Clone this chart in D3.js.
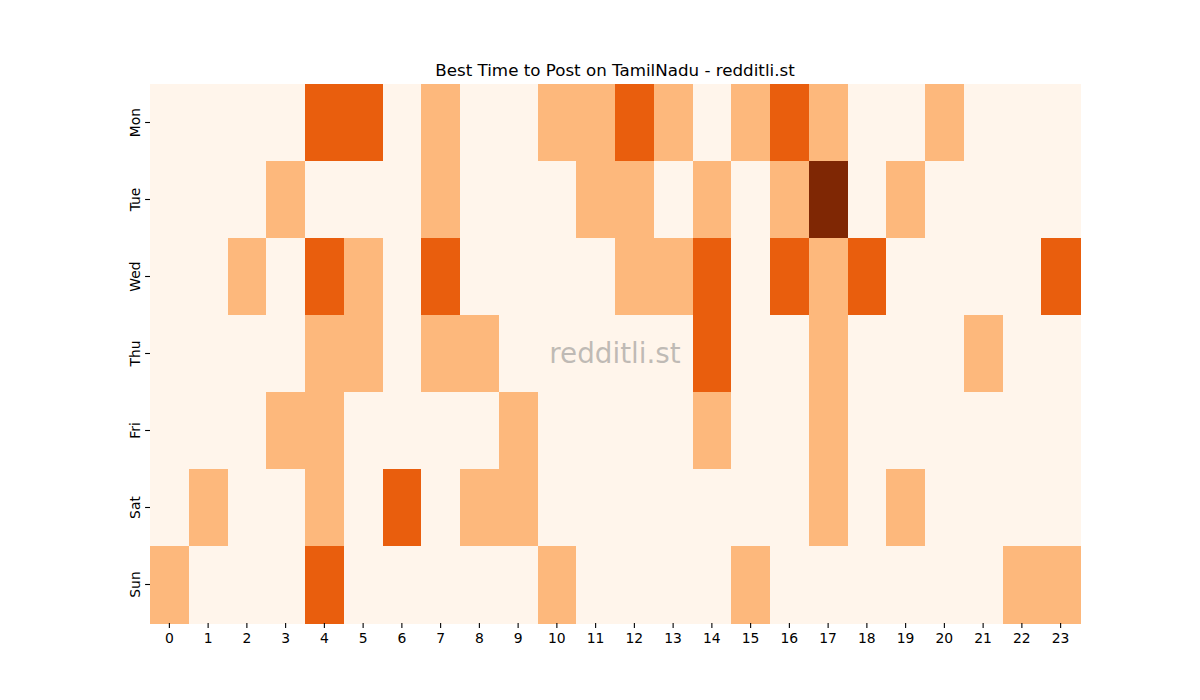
<!DOCTYPE html>
<html>
<head>
<meta charset="utf-8">
<script src="https://cdn.jsdelivr.net/npm/d3@7"></script>
<style>
  body { margin: 0; background: #fff; }
  svg { display: block; font-family: "DejaVu Sans", sans-serif; }
</style>
</head>
<body>
<svg id="chart" width="1200" height="700"></svg>
<script>
const days = ["Mon", "Tue", "Wed", "Thu", "Fri", "Sat", "Sun"];
const hours = ["0","1","2","3","4","5","6","7","8","9","10","11","12","13","14","15","16","17","18","19","20","21","22","23"];
// levels per day, hours 0..23
const mon = [0,0,0,0,2,2,0,1,0,0,1,1,2,1,0,1,2,1,0,0,1,0,0,0];
const tue = [0,0,0,1,0,0,0,1,0,0,0,1,1,0,1,0,1,3,0,1,0,0,0,0];
const wed = [0,0,1,0,2,1,0,2,0,0,0,0,1,1,2,0,2,1,2,0,0,0,0,2];
const thu = [0,0,0,0,1,1,0,1,1,0,0,0,0,0,2,0,0,1,0,0,0,1,0,0];
const fri = [0,0,0,1,1,0,0,0,0,1,0,0,0,0,1,0,0,1,0,0,0,0,0,0];
const sat = [0,1,0,0,1,0,2,0,1,1,0,0,0,0,0,0,0,1,0,1,0,0,0,0];
const sun = [1,0,0,0,2,0,0,0,0,0,1,0,0,0,0,1,0,0,0,0,0,0,1,1];
const rows = [mon, tue, wed, thu, fri, sat, sun];

const title = "Best Time to Post on TamilNadu - redditli.st";
const watermark = "redditli.st";

const svg = d3.select("#chart");
const margin = {left: 150, right: 120, top: 84, bottom: 77};
const W = 1200, H = 700;

const x = d3.scaleBand().domain(hours).range([margin.left, W - margin.right]);
const y = d3.scaleBand().domain(days).range([margin.top, H - margin.bottom]);
const color = d3.scaleOrdinal().domain([0,1,2,3]).range(["#fff5eb", "#fdb87c", "#e95e0d", "#7f2704"]);

const cells = [];
rows.forEach((r, i) => r.forEach((v, j) => cells.push({day: days[i], hour: hours[j], v})));

svg.append("g").selectAll("rect").data(cells).join("rect")
  .attr("x", d => x(d.hour))
  .attr("y", d => y(d.day))
  .attr("width", x.bandwidth() + 0.5)
  .attr("height", y.bandwidth() + 0.5)
  .attr("fill", d => color(d.v))
  .attr("shape-rendering", "crispEdges");

const xAxis = svg.append("g")
  .attr("transform", `translate(0,${H - margin.bottom})`)
  .call(d3.axisBottom(x).tickSize(4.9).tickPadding(4.9));
xAxis.select(".domain").remove();
xAxis.selectAll("text").attr("font-size", "13.9px").attr("fill", "#000").attr("font-family", "DejaVu Sans");
xAxis.selectAll("line").attr("stroke", "#000").attr("stroke-width", 1.1);

const yAxis = svg.append("g")
  .attr("transform", `translate(${margin.left},0)`)
  .call(d3.axisLeft(y).tickSize(4.9).tickPadding(4.9));
yAxis.select(".domain").remove();
yAxis.selectAll("line").attr("stroke", "#000").attr("stroke-width", 1.1);
yAxis.selectAll("text")
  .attr("font-size", "13.9px").attr("fill", "#000").attr("font-family", "DejaVu Sans")
  .attr("text-anchor", "middle")
  .attr("dy", "0")
  .attr("x", 0)
  .attr("transform", "translate(-10,0) rotate(-90)");

svg.append("text")
  .attr("x", (margin.left + W - margin.right) / 2)
  .attr("y", margin.top - 8.3)
  .attr("text-anchor", "middle")
  .attr("font-size", "16.7px")
  .attr("fill", "#000")
  .text(title);

svg.append("text")
  .attr("x", (margin.left + W - margin.right) / 2)
  .attr("y", (margin.top + H - margin.bottom) / 2)
  .attr("dy", "0.35em")
  .attr("text-anchor", "middle")
  .attr("font-size", "27.8px")
  .attr("fill", "#808080")
  .attr("fill-opacity", 0.5)
  .text(watermark);
</script>
</body>
</html>
